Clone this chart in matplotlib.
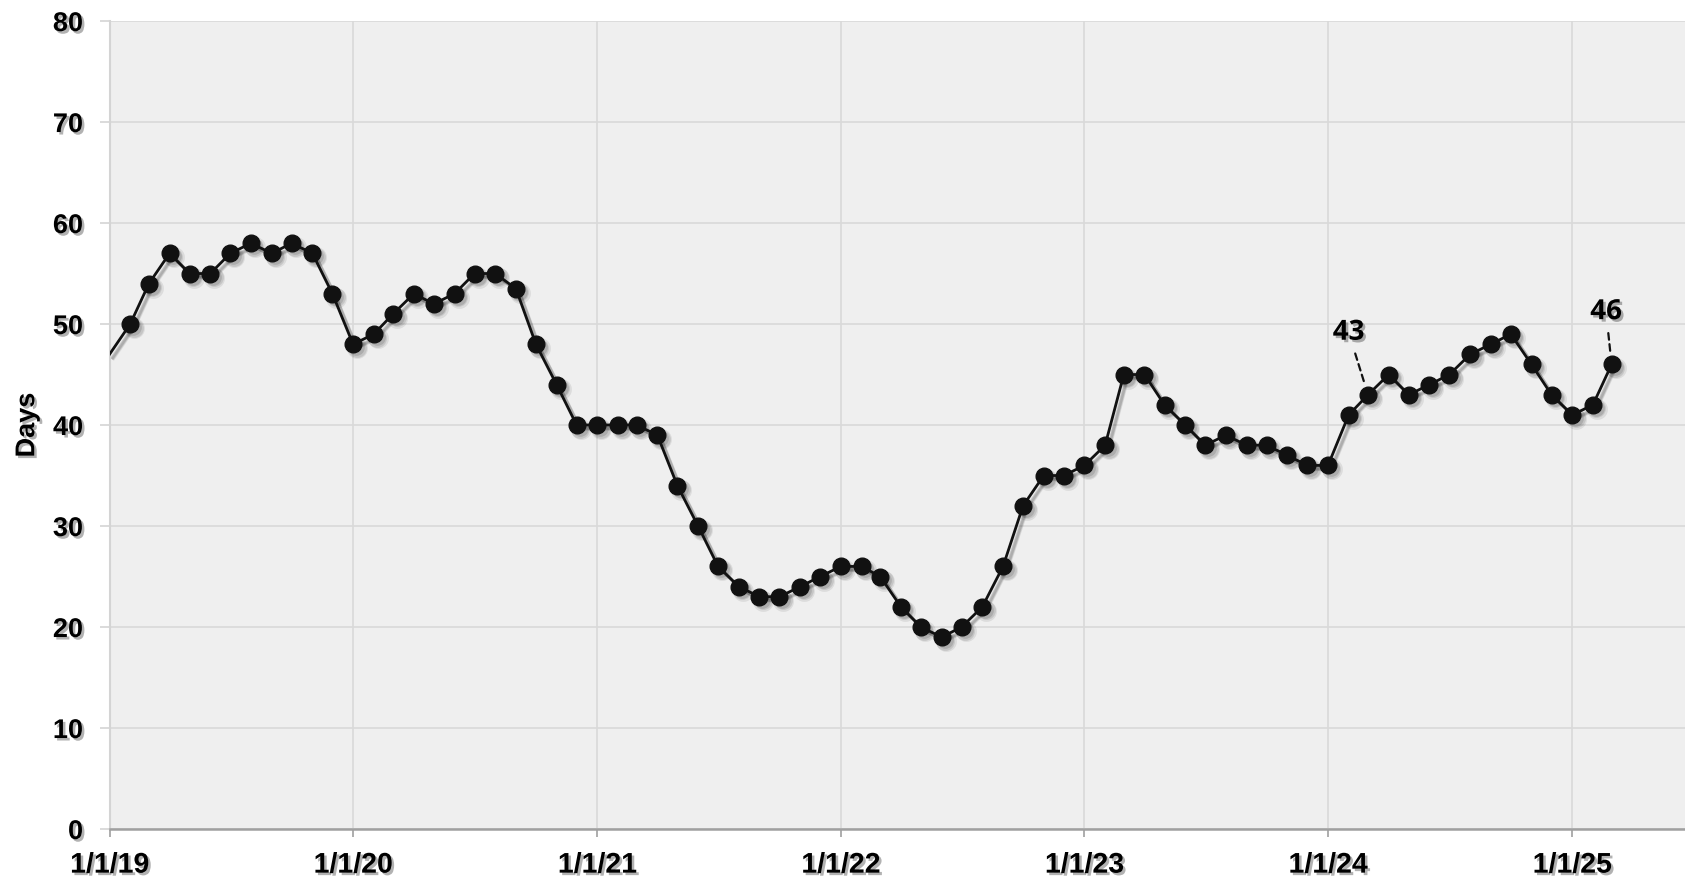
import pandas as pd
import matplotlib
matplotlib.use('Agg')
import matplotlib.pyplot as plt
import matplotlib.patheffects as pe
import matplotlib.transforms as mtransforms

# monthly values, Jan 2019 .. Mar 2025
days = [47, 50, 54, 57, 55, 55, 57, 58, 57, 58, 57, 53,
        48, 49, 51, 53, 52, 53, 55, 55, 53.5, 48, 44, 40,
        40, 40, 40, 39, 34, 30, 26, 24, 23, 23, 24, 25,
        26, 26, 25, 22, 20, 19, 20, 22, 26, 32, 35, 35,
        36, 38, 45, 45, 42, 40, 38, 39, 38, 38, 37, 36,
        36, 41, 43, 45, 43, 44, 45, 47, 48, 49, 46, 43,
        41, 42, 46]
dates = pd.date_range('2019-01-01', periods=len(days), freq='MS')

tick_dates = pd.to_datetime(['2019-01-01', '2020-01-01', '2021-01-01', '2022-01-01',
                             '2023-01-01', '2024-01-01', '2025-01-01'])
tick_labels = ['1/1/19', '1/1/20', '1/1/21', '1/1/22', '1/1/23', '1/1/24', '1/1/25']

# labelled points: (date, text offset in points)
callouts = [('2024-03-01', (-14, 45)), ('2025-03-01', (-4, 38))]

df = pd.DataFrame({'date': dates, 'days': days})

plt.rcParams['font.family'] = ['Liberation Sans', 'DejaVu Sans']

fig = plt.figure(figsize=(16.85, 8.77), dpi=100)
ax = fig.add_axes([0.065, 0.0547, 0.935, 0.9213])
ax.set_facecolor('#efefef')

txt_shadow = [pe.withSimplePatchShadow(offset=(1.8, -1.8), shadow_rgbFace='#000000', alpha=0.3)]
marks = list(range(1, len(df)))

# soft drop shadow: a few faint offset copies
for dx, ms, a in [(4, 15, 0.08), (3.5, 13.5, 0.1), (3, 12, 0.12)]:
    tr = mtransforms.offset_copy(ax.transData, fig=fig, x=dx, y=-dx, units='dots')
    ax.plot(df['date'], df['days'], color='#000000', alpha=a, lw=2.5, marker='o', ms=ms,
            mec='none', markevery=marks, transform=tr, zorder=2)

ax.plot(df['date'], df['days'], color='#111111', lw=2, marker='o', ms=12,
        markevery=marks, zorder=3)

for d, off in callouts:
    row = df[df['date'] == pd.Timestamp(d)].iloc[0]
    ax.annotate(f"{row['days']:g}", xy=(row['date'], row['days']), xytext=off,
                textcoords='offset points', ha='center', va='center',
                fontsize=20, fontweight='bold', family=['Open Sans', 'DejaVu Sans'],
                path_effects=txt_shadow,
                arrowprops=dict(arrowstyle='-', linestyle=(0, (3, 2)), lw=1.6, color='#111111',
                                shrinkA=3, shrinkB=8))

ax.set_ylim(0, 80)
ax.set_yticks(range(0, 81, 10))
ax.set_xlim(pd.Timestamp('2019-01-01'), pd.Timestamp('2025-06-19'))
ax.set_xticks(tick_dates)
ax.set_xticklabels(tick_labels)

ax.grid(True, color='#d9d9d9', lw=1.2)
ax.set_axisbelow(True)
for s in ['top', 'right']:
    ax.spines[s].set_visible(False)
ax.spines['left'].set_color('#d4d4d4')
ax.spines['left'].set_linewidth(1.5)
ax.spines['bottom'].set_color('#a0a0a0')
ax.spines['bottom'].set_linewidth(1.8)

ax.tick_params(axis='y', length=7, color='#d4d4d4', width=1.2, pad=12, labelsize=19.5)
ax.tick_params(axis='x', length=6, color='#a0a0a0', width=1.2, pad=11, labelsize=20.5)
for lab in ax.get_xticklabels() + ax.get_yticklabels():
    lab.set_fontweight('bold')
    lab.set_path_effects(txt_shadow)

ax.set_ylabel('Days', fontsize=19.5, fontweight='bold', path_effects=txt_shadow)
ax.yaxis.set_label_coords(-0.044, 0.5)

fig.savefig('out.png', dpi=100)
